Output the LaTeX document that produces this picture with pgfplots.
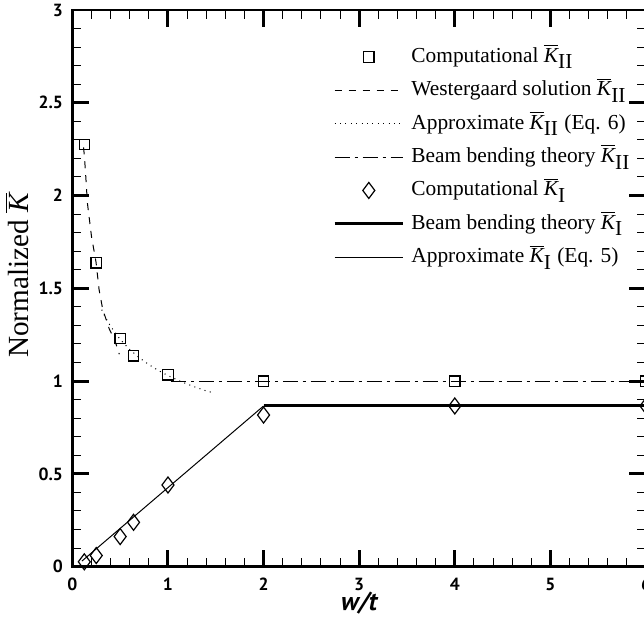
\documentclass[border=0pt]{standalone}
\usepackage{fontspec}
\setmainfont{Liberation Serif}
\newfontfamily\ptsans{PT Sans}
\usepackage{pgfplots}
\pgfplotsset{compat=1.18}

\newcommand{\Kb}[1]{$\overline{\textit{K}}_{\textrm{#1}}$}

\begin{document}
\begin{tikzpicture}
\begin{axis}[
    name=ax, at={(0,0)}, anchor=south west,
    width=287pt, height=278.5pt, scale only axis,
    xmin=0, xmax=6, ymin=0, ymax=3,
    xtick={0,1,...,6}, ytick={0,0.5,...,3},
    minor x tick num=4, minor y tick num=4,
    tick align=inside,
    axis line style={line width=1.5pt},
    major tick length=8.5pt, minor tick length=4.5pt,
    major tick style={line width=1.5pt, black},
    minor tick style={line width=0.5pt, black},
    /pgf/number format/assume math mode=true,
    tick label style={font=\ptsans\bfseries\fontsize{8.8}{9}\selectfont},
    xticklabel style={yshift=-2pt},
    yticklabel style={xshift=-1.2pt},
    xlabel={\ptsans\bfseries\itshape w/t},
    xlabel style={font=\fontsize{13}{14}\selectfont, yshift=6pt},
    ylabel={Normalized $\overline{\textit{K}}$},
    ylabel style={font=\fontsize{14.6}{16}\selectfont, at={(ticklabel cs:0.523)}, yshift=-2pt},
    clip=false,
    legend cell align=left,
    legend image code/.code={
        \draw[mark repeat=2, mark phase=2] plot coordinates {(0cm,0cm) (0.6cm,0cm) (1.2cm,0cm)};
    },
    legend style={at={(rel axis cs:0.454,0.946)}, anchor=north west, draw=none, fill=none,
        inner sep=0pt, row sep=0.2pt, column sep=1.5pt,
        font=\fontsize{10.7}{12}\selectfont,
        nodes={inner sep=2pt, text height=9pt, text depth=3.5pt}},
]
% Computational K_II
\addplot[only marks, mark=square, mark size=2.6pt, mark options={line width=0.6pt, fill=white}] coordinates {
    (0.125,2.276) (0.25,1.638) (0.5,1.230) (0.64,1.136) (1,1.034) (2,1.0) (4,1.0) (6,1.0)
};
\addlegendentry{Computational \Kb{II}}
% Westergaard K_II
\addplot[line width=0.5pt, dash pattern=on 3.5pt off 3.5pt] coordinates {
    (0.118,2.26) (0.136,2.14) (0.157,1.962) (0.2,1.78) (0.248,1.64) (0.279,1.495)
    (0.317,1.388) (0.387,1.28) (0.446,1.217) (0.491,1.145)
};
\addlegendentry{Westergaard solution \Kb{II}}
% Approximate K_II (Eq. 6)
\addplot[line width=0.5pt, dash pattern=on 0.5pt off 2.2pt] coordinates {
    (0.307,1.385) (0.35,1.339) (0.4,1.295) (0.5,1.225) (0.6,1.170) (0.7,1.126)
    (0.8,1.089) (0.9,1.057) (1.0,1.030) (1.1,1.006) (1.2,0.984) (1.3,0.965)
    (1.4,0.947) (1.474,0.937)
};
\addlegendentry{Approximate \Kb{II} (Eq. 6)}
% Beam bending K_II
\addplot[line width=0.5pt, dash pattern=on 7.5pt off 2.5pt on 1.5pt off 2.5pt] coordinates {
    (1.03,1.0) (6,1.0)
};
\addlegendentry{Beam bending theory \Kb{II}}
% Computational K_I
\addplot[only marks, mark=diamond, mark size=4pt, mark options={line width=0.6pt, fill=white}] coordinates {
    (0.125,0.026) (0.25,0.06) (0.5,0.162) (0.64,0.239) (1,0.44) (2,0.817) (4,0.866) (6,0.866)
};
\addlegendentry{Computational \Kb{I}}
% Beam bending K_I
\addplot[line width=1.5pt] coordinates {(2,0.866) (6,0.866)};
\addlegendentry{Beam bending theory \Kb{I}}
% Approximate K_I (Eq. 5)
\addplot[line width=0.5pt] coordinates {(0.1,0.03) (2,0.866)};
\addlegendentry{Approximate \Kb{I} (Eq. 5)}
\end{axis}
\pgfresetboundingbox
\path[use as bounding box] (-36.2pt,-25.6pt) rectangle (286pt,283.5pt);
\end{tikzpicture}
\end{document}
